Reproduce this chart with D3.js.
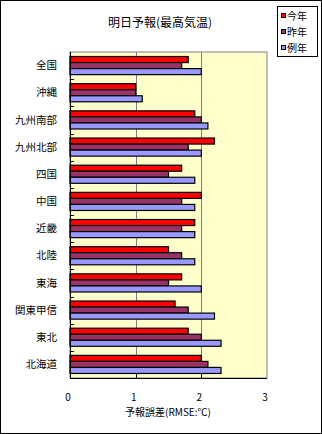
<!DOCTYPE html>
<html lang="ja">
<head>
<meta charset="utf-8">
<title>明日予報(最高気温)</title>
<script src="https://d3js.org/d3.v7.min.js"></script>
<style>
  body { margin: 0; background: #fff; }
  svg text { font-family: "Noto Sans CJK JP", "DejaVu Sans", sans-serif; fill: #000; }
</style>
</head>
<body>
<div id="chart"></div>
<script>
// data
var regions = ["全国", "沖縄", "九州南部", "九州北部", "四国", "中国", "近畿", "北陸", "東海", "関東甲信", "東北", "北海道"];
var seriesNames = ["今年", "昨年", "例年"];
var thisYear = [1.8, 1.0, 1.9, 2.2, 1.7, 2.0, 1.9, 1.5, 1.7, 1.6, 1.8, 2.0];
var lastYear = [1.7, 1.0, 2.0, 1.8, 1.5, 1.7, 1.7, 1.7, 1.5, 1.8, 2.0, 2.1];
var normalYear = [2.0, 1.1, 2.1, 2.0, 1.9, 1.9, 1.9, 1.9, 2.0, 2.2, 2.3, 2.3];
var xTicks = [0, 1, 2, 3];
var colors = ["#ff0000", "#993366", "#9999ff"];

var W = 322, H = 434;
var plot = { left: 70, top: 52, right: 267, bottom: 378 };

var svg = d3.select("#chart").append("svg")
    .attr("width", W)
    .attr("height", H);

// outer frame
svg.append("rect")
    .attr("x", 0.5).attr("y", 0.5)
    .attr("width", W - 1).attr("height", H - 1)
    .attr("fill", "#fff").attr("stroke", "#000");

var x = d3.scaleLinear().domain([0, 3]).range([plot.left, plot.right]);
var y = d3.scaleBand().domain(regions).range([plot.top, plot.bottom]).padding(0);
var ySub = d3.scaleBand().domain(seriesNames).range([0, y.bandwidth()])
    .paddingInner(0).paddingOuter(0.75);

// plot background
svg.append("rect")
    .attr("x", plot.left).attr("y", plot.top)
    .attr("width", plot.right - plot.left).attr("height", plot.bottom - plot.top)
    .attr("fill", "#ffffcc").attr("stroke", "#808080");

// gridlines
svg.selectAll(".grid")
    .data(xTicks.slice(1, -1))
    .enter().append("line")
    .attr("class", "grid")
    .attr("x1", function(d) { return Math.round(x(d)) + 0.5; })
    .attr("x2", function(d) { return Math.round(x(d)) + 0.5; })
    .attr("y1", plot.top).attr("y2", plot.bottom)
    .attr("stroke", "#808080");

// bars
var rows = regions.map(function(r, i) {
    return { region: r, values: [thisYear[i], lastYear[i], normalYear[i]] };
});

var group = svg.selectAll(".row")
    .data(rows)
    .enter().append("g")
    .attr("class", "row")
    .attr("transform", function(d) { return "translate(0," + y(d.region) + ")"; });

group.selectAll("rect")
    .data(function(d) {
        return d.values.map(function(v, j) { return { name: seriesNames[j], value: v, k: j }; });
    })
    .enter().append("rect")
    .attr("x", x(0))
    .attr("y", function(d) { return ySub(d.name); })
    .attr("width", function(d) { return x(d.value) - x(0); })
    .attr("height", ySub.bandwidth())
    .attr("fill", function(d) { return colors[d.k]; })
    .attr("stroke", "#000")
    .attr("stroke-width", 1.2);

// y axis (ticks inside, at category boundaries)
var yAxis = svg.append("g");
yAxis.append("line")
    .attr("x1", plot.left + 0.5).attr("x2", plot.left + 0.5)
    .attr("y1", plot.top).attr("y2", plot.bottom)
    .attr("stroke", "#000");
yAxis.selectAll(".ytick")
    .data(regions.slice(1))
    .enter().append("line")
    .attr("x1", plot.left).attr("x2", plot.left + 4)
    .attr("y1", function(d) { return Math.round(y(d)) + 0.5; })
    .attr("y2", function(d) { return Math.round(y(d)) + 0.5; })
    .attr("stroke", "#000");
yAxis.selectAll(".ylab")
    .data(regions)
    .enter().append("text")
    .attr("x", 57)
    .attr("y", function(d) { return y(d) + y.bandwidth() / 2; })
    .attr("dy", "0.35em")
    .attr("text-anchor", "end")
    .style("font-size", "10.5px")
    .text(function(d) { return d; });

// x axis
var xAxis = svg.append("g");
xAxis.append("line")
    .attr("x1", plot.left).attr("x2", plot.right)
    .attr("y1", plot.bottom + 0.5).attr("y2", plot.bottom + 0.5)
    .attr("stroke", "#000");
xAxis.selectAll(".xtick")
    .data(xTicks.slice(1, -1))
    .enter().append("line")
    .attr("x1", function(d) { return Math.round(x(d)) + 0.5; })
    .attr("x2", function(d) { return Math.round(x(d)) + 0.5; })
    .attr("y1", plot.bottom - 4).attr("y2", plot.bottom)
    .attr("stroke", "#000");
xAxis.selectAll(".xlab")
    .data(xTicks)
    .enter().append("text")
    .attr("x", function(d) { return x(d) - 2; })
    .attr("y", 397)
    .attr("dy", "0.35em")
    .attr("text-anchor", "middle")
    .style("font-size", "10px")
    .text(function(d) { return d; });

svg.append("text")
    .attr("x", 168).attr("y", 412)
    .attr("dy", "0.35em")
    .attr("text-anchor", "middle")
    .style("font-size", "10px")
    .text("予報誤差(RMSE:℃)");

// title
svg.append("text")
    .attr("x", 160).attr("y", 23)
    .attr("dy", "0.35em")
    .attr("text-anchor", "middle")
    .style("font-size", "12px")
    .text("明日予報(最高気温)");

// legend
var legend = svg.append("g");
legend.append("rect")
    .attr("x", 277.5).attr("y", 6.5)
    .attr("width", 40).attr("height", 50)
    .attr("fill", "#fff").attr("stroke", "#000");
var item = legend.selectAll(".item")
    .data(seriesNames)
    .enter().append("g")
    .attr("transform", function(d, i) { return "translate(281," + (16 + i * 16) + ")"; });
item.append("rect")
    .attr("x", 0.5).attr("y", -2.5)
    .attr("width", 4).attr("height", 4)
    .attr("fill", function(d, i) { return colors[i]; })
    .attr("stroke", "#000");
item.append("text")
    .attr("x", 6)
    .attr("dy", "0.35em")
    .style("font-size", "10px")
    .text(function(d) { return d; });
</script>
</body>
</html>
